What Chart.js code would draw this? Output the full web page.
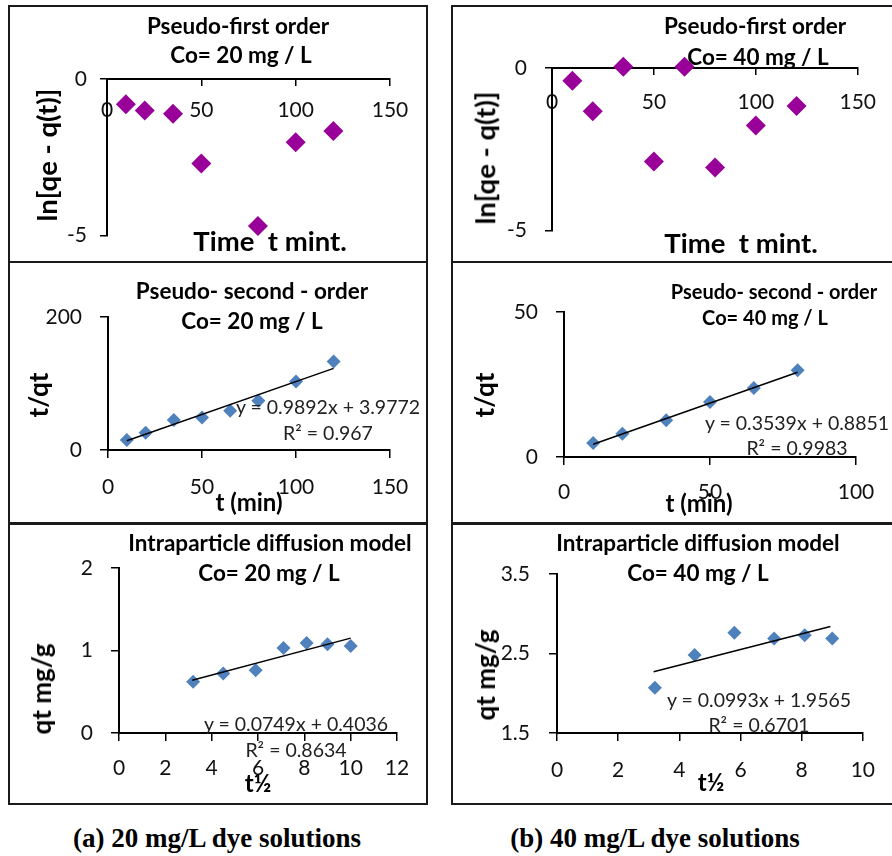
<!DOCTYPE html>
<html>
<head>
<meta charset="utf-8">
<script src="https://cdn.jsdelivr.net/npm/chart.js"></script>
<style>
  html, body { margin: 0; padding: 0; background: #fff; }
  body { width: 892px; height: 856px; position: relative; overflow: hidden; font-family: Lato, sans-serif; color: #000; }
  .box { position: absolute; border: 2px solid #1a1a1a; box-sizing: border-box; }
  canvas { position: absolute; }
  .lbl { position: absolute; transform: translate(-50%, -50%); white-space: pre; line-height: 1; z-index: 2; }
  .ttl { font-weight: 700; font-size: 22.5px; }
  .ttl.sm { font-size: 20px; }
  .ax { font-weight: 700; font-size: 24px; }
  .ax.big { font-size: 27.5px; }
  .ax.mid { font-size: 26px; }
  .rot { transform: translate(-50%, -50%) rotate(-90deg); }
  .eq { font-size: 19.5px; color: #222; }
  .cap { font-family: "Liberation Serif", serif; font-weight: 700; font-size: 27px; }
</style>
</head>
<body>
<div class="box" style="left:8px;top:5px;width:420px;height:258px"></div>
<div class="box" style="left:451px;top:5px;width:460px;height:258px"></div>
<div class="box" style="left:8px;top:261px;width:420px;height:264px"></div>
<div class="box" style="left:451px;top:261px;width:460px;height:264px"></div>
<div class="box" style="left:8px;top:522px;width:420px;height:283px"></div>
<div class="box" style="left:451px;top:522px;width:460px;height:283px"></div>

<canvas id="c1"></canvas>
<canvas id="c2"></canvas>
<canvas id="c3"></canvas>
<canvas id="c4"></canvas>
<canvas id="c5"></canvas>
<canvas id="c6"></canvas>

<script>
// Pseudo-first order, Co = 20 mg/L  (t in min, ln[qe - q(t)])
const pf20T = [10, 20, 35, 50, 80, 100, 120];
const pf20Y = [-0.81, -1.01, -1.11, -2.7, -4.7, -2.02, -1.66];
// Pseudo-first order, Co = 40 mg/L
const pf40T = [10, 20, 35, 50, 65, 80, 100, 120];
const pf40Y = [-0.39, -1.33, 0.04, -2.88, 0.04, -3.06, -1.77, -1.17];

// Pseudo-second order (t/qt)
const ps20T = [10, 20, 35, 50, 65, 80, 100, 120];
const ps20Y = [15, 26, 45, 49, 59, 74, 103, 133];
const ps20TrendX = [10, 120];
const ps20TrendY = [13.9, 122.7];
const ps40T = [10, 20, 35, 50, 65, 80];
const ps40Y = [4.8, 8.0, 12.7, 19.0, 23.8, 29.9];
const ps40TrendX = [10, 80];
const ps40TrendY = [4.42, 29.2];

// Intraparticle diffusion (t^1/2, qt mg/g)
const ip20X = [3.2, 4.5, 5.9, 7.1, 8.1, 9.0, 10.0];
const ip20Y = [0.62, 0.72, 0.76, 1.03, 1.09, 1.075, 1.055];
const ip20TrendX = [3.16, 10];
const ip20TrendY = [0.64, 1.15];
const ip40X = [3.2, 4.5, 5.8, 7.1, 8.1, 9.0];
const ip40Y = [2.07, 2.48, 2.76, 2.69, 2.73, 2.69];
const ip40TrendX = [3.16, 8.94];
const ip40TrendY = [2.27, 2.84];

// tick labels
const pfXTicks = [0, 50, 100, 150];
const pfYTicks = [-5, 0];
const ps20XTicks = [0, 50, 100, 150];
const ps20YTicks = [0, 200];
const ps40XTicks = [0, 50, 100];
const ps40YTicks = [0, 50];
const ip20XTicks = [0, 2, 4, 6, 8, 10, 12];
const ip20YTicks = [0, 1, 2];
const ip40XTicks = [0, 2, 4, 6, 8, 10];
const ip40YTicks = [1.5, 2.5, 3.5];

const purple = '#990099';
const blue = '#4f81bd';

function pts(xs, ys) {
  return xs.map((x, i) => ({ x: x, y: ys[i] }));
}

function markers(xs, ys, color, r) {
  return {
    data: pts(xs, ys), showLine: false, pointStyle: 'rectRot', pointRadius: r,
    pointBackgroundColor: color, pointBorderColor: color, pointBorderWidth: 0,
    clip: false, order: 2
  };
}

function trend(xs, ys) {
  return {
    data: pts(xs, ys), showLine: true, pointRadius: 0, borderColor: '#000',
    borderWidth: 1.5, clip: false, order: 1
  };
}

function axis(ticks, o) {
  return {
    type: 'linear',
    min: ticks[0], max: ticks[ticks.length - 1],
    position: o.pos,
    afterFit: s => { if (s.isHorizontal()) s.height = o.size; else s.width = o.size; },
    afterBuildTicks: s => { s.ticks = ticks.map(v => ({ value: v })); },
    border: { display: true, color: '#000', width: 2 },
    grid: { display: true, drawOnChartArea: false, drawTicks: true, tickLength: o.tl, color: '#000', lineWidth: 1.5 },
    ticks: {
      padding: o.pad, color: '#111', autoSkip: false, maxRotation: 0,
      font: { family: 'Lato', size: 21 },
      callback: v => String(v)
    }
  };
}

// rect = canvas box in page coords, area = wanted plot area in page coords
function makeChart(id, rect, area, datasets, xAxis, yAxis) {
  const cv = document.getElementById(id);
  cv.width = rect.w; cv.height = rect.h;
  cv.style.left = rect.x + 'px'; cv.style.top = rect.y + 'px';
  yAxis.size = 80;
  new Chart(cv.getContext('2d'), {
    type: 'scatter',
    data: { datasets: datasets },
    options: {
      responsive: false,
      animation: false,
      layout: {
        padding: {
          left: area.l - rect.x - yAxis.size,
          top: area.t - rect.y,
          right: rect.x + rect.w - area.r,
          bottom: rect.y + rect.h - area.b - xAxis.size
        }
      },
      plugins: { legend: { display: false }, tooltip: { enabled: false }, title: { display: false } },
      scales: {
        x: axis(xAxis.ticks, xAxis),
        y: axis(yAxis.ticks, yAxis)
      }
    }
  });
}

makeChart('c1', { x: 10, y: 7, w: 416, h: 254 }, { l: 107, r: 390, t: 79, b: 227 },
  [markers(pf20T, pf20Y, purple, 10)],
  { ticks: pfXTicks, pos: { y: 0 }, size: 10, tl: 6, pad: 13 },
  { ticks: pfYTicks, pos: 'left', tl: 7, pad: 13 });

makeChart('c2', { x: 453, y: 7, w: 439, h: 254 }, { l: 552, r: 858, t: 68, b: 222 },
  [markers(pf40T, pf40Y, purple, 10)],
  { ticks: pfXTicks, pos: { y: 0 }, size: 10, tl: 6, pad: 16 },
  { ticks: pfYTicks, pos: 'left', tl: 7, pad: 18 });

makeChart('c3', { x: 10, y: 263, w: 416, h: 258 }, { l: 108, r: 390, t: 317, b: 450 },
  [trend(ps20TrendX, ps20TrendY), markers(ps20T, ps20Y, blue, 7)],
  { ticks: ps20XTicks, pos: 'bottom', size: 55, tl: 8, pad: 17 },
  { ticks: ps20YTicks, pos: 'left', tl: 8, pad: 18 });

makeChart('c4', { x: 453, y: 263, w: 439, h: 258 }, { l: 564, r: 856, t: 312, b: 457 },
  [trend(ps40TrendX, ps40TrendY), markers(ps40T, ps40Y, blue, 7)],
  { ticks: ps40XTicks, pos: 'bottom', size: 55, tl: 8, pad: 15 },
  { ticks: ps40YTicks, pos: 'left', tl: 8, pad: 18 });

makeChart('c5', { x: 10, y: 524, w: 416, h: 278 }, { l: 119, r: 397, t: 568, b: 733 },
  [trend(ip20TrendX, ip20TrendY), markers(ip20X, ip20Y, blue, 7)],
  { ticks: ip20XTicks, pos: 'bottom', size: 55, tl: 8, pad: 15 },
  { ticks: ip20YTicks, pos: 'left', tl: 8, pad: 18 });

makeChart('c6', { x: 453, y: 524, w: 439, h: 278 }, { l: 557, r: 864, t: 574, b: 733 },
  [trend(ip40TrendX, ip40TrendY), markers(ip40X, ip40Y, blue, 7)],
  { ticks: ip40XTicks, pos: 'bottom', size: 55, tl: 8, pad: 17 },
  { ticks: ip40YTicks, pos: 'left', tl: 8, pad: 19 });

// titles, axis titles, trendline equations, captions
const labels = [
  [238, 26, 'Pseudo-first order', 'ttl'], [241, 55, 'Co= 20 mg / L', 'ttl'],
  [47, 155, 'ln[qe - q(t)]', 'ax big rot'], [270, 241, 'Time  t mint.', 'ax big'],
  [755, 26, 'Pseudo-first order', 'ttl'], [758, 57, 'Co= 40 mg / L', 'ttl'],
  [485, 158, 'ln[qe - q(t)]', 'ax big rot'], [741, 243, 'Time  t mint.', 'ax big'],

  [252, 291, 'Pseudo- second - order', 'ttl'], [252, 321, 'Co= 20 mg / L', 'ttl'],
  [38, 395, 't/qt', 'ax mid rot'], [249, 502, 't (min)', 'ax'],
  [328, 407, 'y = 0.9892x + 3.9772', 'eq'], [328, 433, 'R² = 0.967', 'eq'],
  [774, 291, 'Pseudo- second - order', 'ttl sm'], [765, 317, 'Co= 40 mg / L', 'ttl sm'],
  [484, 395, 't/qt', 'ax mid rot'], [699, 503, 't (min)', 'ax'],
  [797, 423, 'y = 0.3539x + 0.8851', 'eq'], [797, 448, 'R² = 0.9983', 'eq'],

  [270, 543, 'Intraparticle diffusion model', 'ttl'], [269, 573, 'Co= 20 mg / L', 'ttl'],
  [41, 689, 'qt mg/g', 'ax mid rot'], [258, 783, 't½', 'ax'],
  [296, 724, 'y = 0.0749x + 0.4036', 'eq'], [296, 750, 'R² = 0.8634', 'eq'],
  [698, 543, 'Intraparticle diffusion model', 'ttl'], [698, 573, 'Co= 40 mg / L', 'ttl'],
  [485, 675, 'qt mg/g', 'ax mid rot'], [711, 782, 't½', 'ax'],
  [759, 700, 'y = 0.0993x + 1.9565', 'eq'], [759, 725, 'R² = 0.6701', 'eq'],

  [217, 838, '(a) 20 mg/L dye solutions', 'cap'], [655, 838, '(b) 40 mg/L dye solutions', 'cap']
];
labels.forEach(([x, y, text, cls]) => {
  const d = document.createElement('div');
  d.className = 'lbl ' + cls;
  d.style.left = x + 'px';
  d.style.top = y + 'px';
  d.textContent = text;
  document.body.appendChild(d);
});
</script>
</body>
</html>
